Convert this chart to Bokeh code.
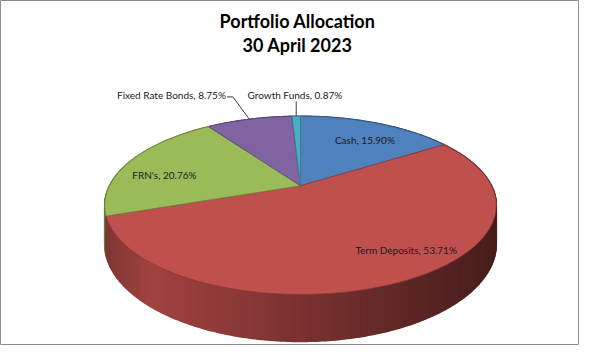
import numpy as np
from bokeh.plotting import figure
from bokeh.models import Range1d
from bokeh.core.properties import value
from bokeh.embed import file_html
from bokeh.resources import INLINE

# ---------------- data ----------------
title_lines = ["Portfolio Allocation", "30 April 2023"]
categories = ["Cash", "Term Deposits", "FRN's", "Fixed Rate Bonds", "Growth Funds"]
values = [15.90, 53.71, 20.76, 8.75, 0.87]
colors = ["#4F81BD", "#C0504D", "#9BBB59", "#8064A2", "#4BACC6"]

# ---------------- layout / style ----------------
CX, CY = 300.0, 189.0      # pie centre (pixel-like data units)
R, E, K, H = 191.0, 0.453, 0.22, 37.4   # radius, tilt, perspective, thickness
# label placement: radial factors (x, y) and whether a leader line is used
label_fx = [0.84, 1.01, 0.80, 1.36, 1.30]
label_fy = [0.74, 0.68, 0.44, 1.36, 1.30]
leader = [False, False, False, True, True]
FONT = "Lato"


def proj(theta, f=1.0, depth=0.0):
    s = 1.0 / (1.0 + K * np.cos(theta))
    x = CX + f * R * np.sin(theta) * s
    y = CY - f * R * E * np.cos(theta) * s + depth * s
    return x, y


def hex_to_rgb(h):
    h = h.lstrip("#")
    return tuple(int(h[i:i + 2], 16) for i in (0, 2, 4))


def shade(hexcol, f):
    r, g, b = hex_to_rgb(hexcol)
    return "#%02x%02x%02x" % (int(min(255, r * f)), int(min(255, g * f)), int(min(255, b * f)))


vals = np.array(values, dtype=float)
frac = vals / vals.sum()
starts = 2 * np.pi * np.concatenate([[0.0], np.cumsum(frac)[:-1]])
ends = 2 * np.pi * np.cumsum(frac)

p = figure(width=579, height=345, x_range=Range1d(0, 579), y_range=Range1d(352, 0),
           x_axis_type=None, y_axis_type=None, toolbar_location=None,
           output_backend="svg", min_border=0)
p.grid.visible = False
p.outline_line_color = "#8c8c8c"
p.outline_line_width = 1
p.background_fill_color = "white"
p.border_fill_color = "white"

# ---------------- side wall (painter's order, far first) ----------------
xmin = CX - R / np.sqrt(1 - K * K)
xmax = CX + R / np.sqrt(1 - K * K)
quads = []
step = np.deg2rad(0.75)
for i, (a0, a1) in enumerate(zip(starts, ends)):
    n = max(1, int(np.ceil((a1 - a0) / step)))
    edges = np.linspace(a0, a1, n + 1)
    for t0, t1 in zip(edges[:-1], edges[1:]):
        tm = 0.5 * (t0 + t1)
        x0, y0 = proj(t0)
        x1, y1 = proj(t1)
        x0b, y0b = proj(t0, depth=H)
        x1b, y1b = proj(t1, depth=H)
        xm, _ = proj(tm)
        t = (xm - xmin) / (xmax - xmin)
        fshade = np.interp(t, [0.0, 0.12, 1.0], [0.66, 0.84, 0.37])
        quads.append((np.cos(tm), [x0, x1, x1b, x0b], [y0, y1, y1b, y0b],
                      shade(colors[i], fshade)))
quads.sort(key=lambda q: -q[0])
p.patches([q[1] for q in quads], [q[2] for q in quads],
          fill_color=[q[3] for q in quads], line_color=[q[3] for q in quads],
          line_width=1.5)

# ---------------- top face ----------------
xs_top, ys_top, fills, lines = [], [], [], []
for i, (a0, a1) in enumerate(zip(starts, ends)):
    n = max(2, int(np.ceil((a1 - a0) / np.deg2rad(0.5))))
    th = np.linspace(a0, a1, n + 1)
    ax, ay = proj(th)
    xs_top.append([CX] + list(ax))
    ys_top.append([CY] + list(ay))
    fills.append(colors[i])
    lines.append(shade(colors[i], 0.7))
p.patches(xs_top, ys_top, fill_color=fills, line_color=lines, line_width=0.8)

# ---------------- labels ----------------
for i, cat in enumerate(categories):
    mid = 0.5 * (starts[i] + ends[i])
    txt = "%s, %.2f%%" % (cat, values[i])
    lx, _ = proj(mid, f=label_fx[i])
    _, ly = proj(mid, f=label_fy[i])
    if leader[i]:
        ex, ey = proj(mid, f=1.0)
        if i == len(categories) - 1:
            p.line([ex, ex], [ey, ly + 6], line_color="#404040", line_width=1)
            p.text([lx], [ly], text=[txt], text_font=value(FONT), text_font_size="10px",
                   text_align="center", text_baseline="middle", text_color="#1a1a1a")
        else:
            p.line([ex, lx + 2, lx - 4], [ey, ly + 1.5, ly + 1.5], line_color="#404040",
                   line_width=1)
            p.text([lx - 5], [ly], text=[txt], text_font=value(FONT), text_font_size="10px",
                   text_align="right", text_baseline="middle", text_color="#1a1a1a")
    else:
        p.text([lx], [ly], text=[txt], text_font=value(FONT), text_font_size="10px",
               text_align="center", text_baseline="middle", text_color="#1a1a1a")

# ---------------- title ----------------
p.text([297, 297], [21, 45], text=title_lines, text_font=value(FONT),
       text_font_size="18px", text_font_style="bold", text_align="center",
       text_baseline="middle", text_color="#000000")

open("out.html", "w").write(file_html(p, INLINE))
